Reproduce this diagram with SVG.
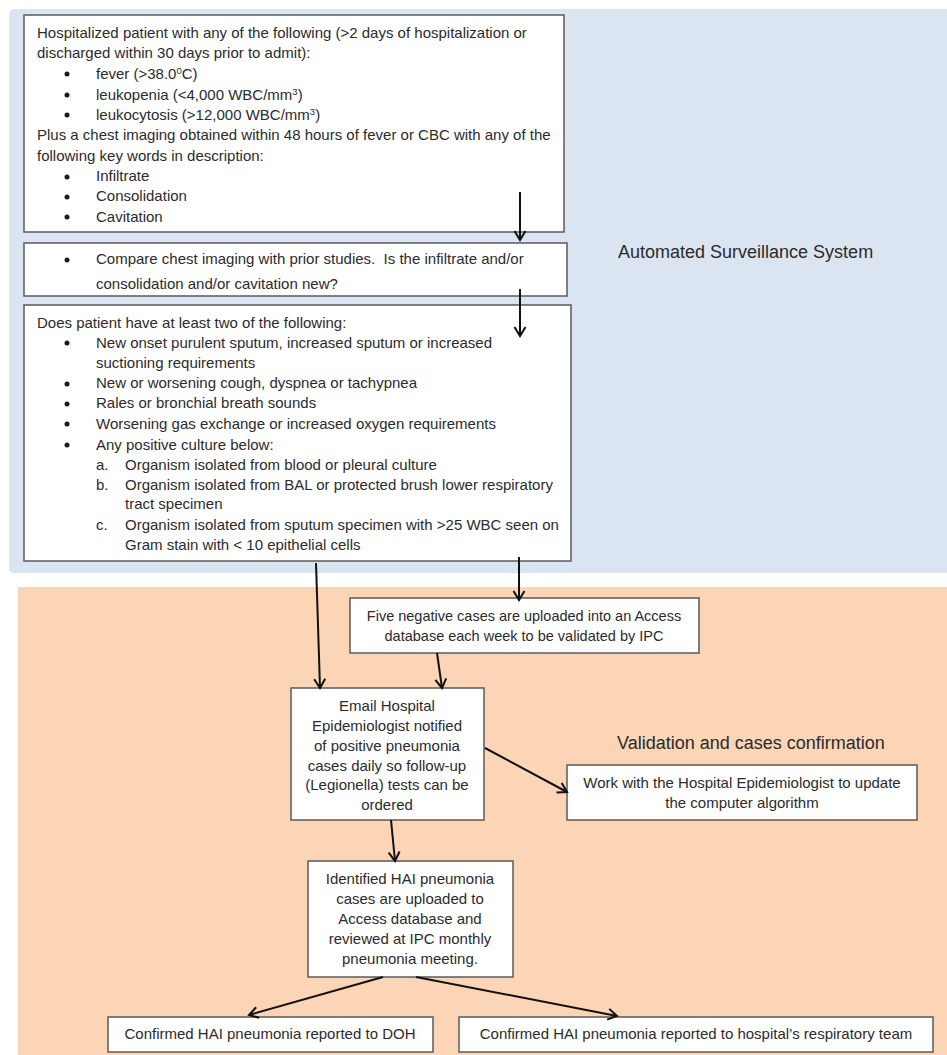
<svg xmlns="http://www.w3.org/2000/svg" width="947" height="1055" viewBox="0 0 947 1055">
<style>
text{font-family:"Liberation Sans",Arial,sans-serif;fill:#2b2b2b}
.t14{font-size:15px}
.t15{font-size:15px;text-anchor:middle}
.t15b{font-size:14.5px;text-anchor:middle}
.title{font-size:18px}
.box{fill:#fff;stroke:#5a5a5a;stroke-width:1.5}
.bul{fill:#1a1a1a}
.conn line{stroke:#111;stroke-width:2;marker-end:url(#ah)}
</style>
<defs>
<marker id="ah" markerUnits="userSpaceOnUse" markerWidth="14" markerHeight="14" refX="10" refY="7" orient="auto">
<path d="M1,1.5 L10,7 L1,12.5" fill="none" stroke="#111" stroke-width="2"/>
</marker>
</defs>
<rect x="0" y="0" width="947" height="1055" fill="#fff"/>
<rect id="bg-auto" x="9" y="9" width="950" height="564" rx="5" fill="#dbe5f1"/>
<rect id="bg-valid" x="18" y="587" width="940" height="480" fill="#fbd5b5"/>
<text class="title" x="618" y="258">Automated Surveillance System</text>
<text class="title" x="617" y="749">Validation and cases confirmation</text>

<g id="n1">
<rect class="box" x="24" y="15" width="540" height="217"/>
<text class="t14" x="37" y="38">Hospitalized patient with any of the following (&gt;2 days of hospitalization or</text>
<text class="t14" x="37" y="58">discharged within 30 days prior to admit):</text>
<circle class="bul" cx="67" cy="74" r="2.5"/><text class="t14" x="96" y="79">fever (&gt;38.0<tspan font-size="9.5" dy="-5">0</tspan><tspan dy="5">C)</tspan></text>
<circle class="bul" cx="67" cy="95" r="2.5"/><text class="t14" x="96" y="100">leukopenia (&lt;4,000 WBC/mm<tspan font-size="9.5" dy="-5">3</tspan><tspan dy="5">)</tspan></text>
<circle class="bul" cx="67" cy="115" r="2.5"/><text class="t14" x="96" y="120">leukocytosis (&gt;12,000 WBC/mm<tspan font-size="9.5" dy="-5">3</tspan><tspan dy="5">)</tspan></text>
<text class="t14" x="37" y="140">Plus a chest imaging obtained within 48 hours of fever or CBC with any of the</text>
<text class="t14" x="37" y="161">following key words in description:</text>
<circle class="bul" cx="67" cy="177" r="2.5"/><text class="t14" x="96" y="181">Infiltrate</text>
<circle class="bul" cx="67" cy="197" r="2.5"/><text class="t14" x="96" y="201">Consolidation</text>
<circle class="bul" cx="67" cy="217" r="2.5"/><text class="t14" x="96" y="222">Cavitation</text>
</g>

<g id="n2">
<rect class="box" x="24" y="243" width="543" height="53"/>
<circle class="bul" cx="67" cy="260" r="2.5"/>
<text class="t14" x="96" y="264" xml:space="preserve">Compare chest imaging with prior studies.  Is the infiltrate and/or</text>
<text class="t14" x="96" y="289">consolidation and/or cavitation new?</text>
</g>

<g id="n3">
<rect class="box" x="24" y="305" width="547" height="256"/>
<text class="t14" x="37" y="328">Does patient have at least two of the following:</text>
<circle class="bul" cx="67" cy="343" r="2.5"/><text class="t14" x="96" y="348">New onset purulent sputum, increased sputum or increased</text>
<text class="t14" x="96" y="368">suctioning requirements</text>
<circle class="bul" cx="67" cy="384" r="2.5"/><text class="t14" x="96" y="388">New or worsening cough, dyspnea or tachypnea</text>
<circle class="bul" cx="67" cy="404" r="2.5"/><text class="t14" x="96" y="408">Rales or bronchial breath sounds</text>
<circle class="bul" cx="67" cy="424" r="2.5"/><text class="t14" x="96" y="429">Worsening gas exchange or increased oxygen requirements</text>
<circle class="bul" cx="67" cy="445" r="2.5"/><text class="t14" x="96" y="450">Any positive culture below:</text>
<text class="t14" x="96" y="470">a.</text><text class="t14" x="125" y="470">Organism isolated from blood or pleural culture</text>
<text class="t14" x="96" y="490">b.</text><text class="t14" x="125" y="490">Organism isolated from BAL or protected brush lower respiratory</text>
<text class="t14" x="125" y="509">tract specimen</text>
<text class="t14" x="96" y="530">c.</text><text class="t14" x="125" y="530">Organism isolated from sputum specimen with &gt;25 WBC seen on</text>
<text class="t14" x="125" y="550">Gram stain with &lt; 10 epithelial cells</text>
</g>

<g id="n4">
<rect class="box" x="350" y="598" width="349" height="55"/>
<text class="t15b" x="524" y="621">Five negative cases are uploaded into an Access</text>
<text class="t15b" x="524" y="641">database each week to be validated by IPC</text>
</g>

<g id="n5">
<rect class="box" x="291" y="688" width="193" height="132"/>
<text class="t15" x="387" y="711">Email Hospital</text>
<text class="t15" x="387" y="731">Epidemiologist notified</text>
<text class="t15" x="387" y="751">of positive pneumonia</text>
<text class="t15" x="387" y="771">cases daily so follow-up</text>
<text class="t15" x="387" y="790">(Legionella) tests can be</text>
<text class="t15" x="387" y="810">ordered</text>
</g>

<g id="n6">
<rect class="box" x="567" y="765" width="350" height="55"/>
<text class="t15" x="742" y="788">Work with the Hospital Epidemiologist to update</text>
<text class="t15" x="742" y="808">the computer algorithm</text>
</g>

<g id="n7">
<rect class="box" x="308" y="861" width="205" height="116"/>
<text class="t15" x="410" y="884">Identified HAI pneumonia</text>
<text class="t15" x="410" y="904">cases are uploaded to</text>
<text class="t15" x="410" y="924">Access database and</text>
<text class="t15" x="410" y="944">reviewed at IPC monthly</text>
<text class="t15" x="410" y="964">pneumonia meeting.</text>
</g>

<g id="n8">
<rect class="box" x="108" y="1017" width="325" height="35"/>
<text class="t15" x="270" y="1039">Confirmed HAI pneumonia reported to DOH</text>
</g>

<g id="n9">
<rect class="box" x="459" y="1017" width="474" height="35"/>
<text class="t15" x="696" y="1039" font-size="15.5">Confirmed HAI pneumonia reported to hospital’s respiratory team</text>
</g>

<g id="connectors" class="conn">
<line x1="520" y1="192" x2="520" y2="240"/>
<line x1="520" y1="289" x2="520" y2="336"/>
<line x1="316" y1="563" x2="320" y2="688"/>
<line x1="519" y1="557" x2="519" y2="600"/>
<line x1="437" y1="653" x2="442" y2="688"/>
<line x1="485" y1="748" x2="567" y2="792"/>
<line x1="391" y1="820" x2="395" y2="861"/>
<line x1="383" y1="977" x2="249" y2="1015"/>
<line x1="416" y1="977" x2="617" y2="1016"/>
</g>
</svg>
